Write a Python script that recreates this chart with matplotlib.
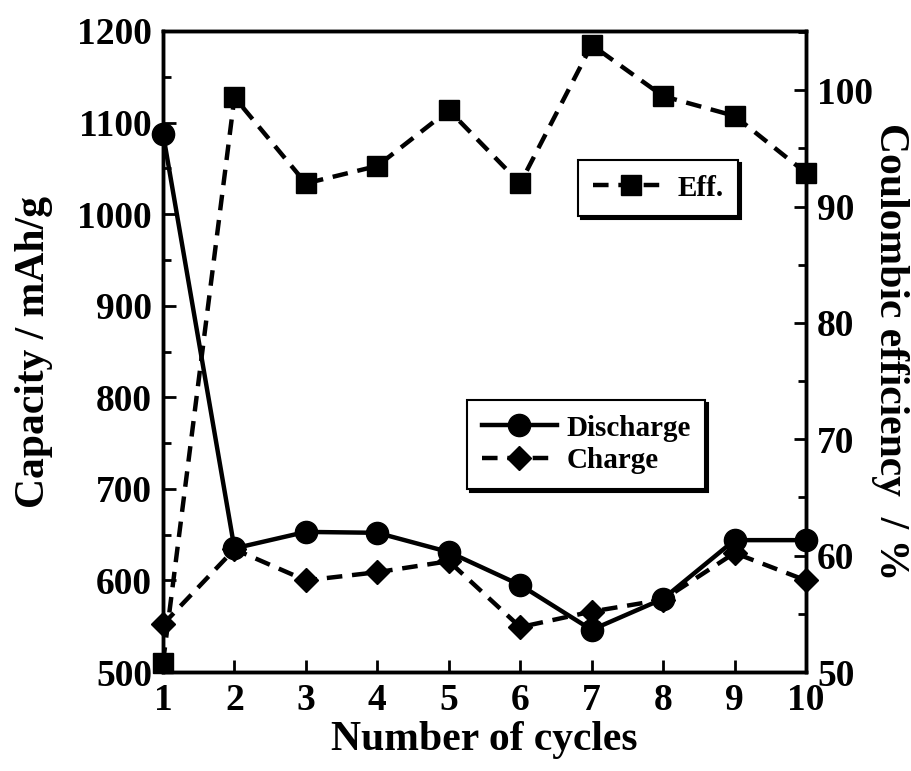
import matplotlib
matplotlib.use("Agg")
import matplotlib.pyplot as plt
from matplotlib.ticker import MultipleLocator

cycles = [1, 2, 3, 4, 5, 6, 7, 8, 9, 10]
discharge = [1088, 635, 653, 652, 631, 595, 546, 580, 644, 644]
charge = [552, 634, 600, 609, 621, 549, 566, 579, 630, 600]
efficiency = [50.8, 99.4, 92.0, 93.5, 98.3, 92.0, 103.9, 99.5, 97.8, 92.9]

plt.rcParams['font.family'] = ['Liberation Serif', 'DejaVu Serif']
plt.rcParams['font.weight'] = 'bold'

fig = plt.figure(figsize=(9.12, 7.71), dpi=100)
ax = fig.add_axes([163/912, 1-672/771, (806-163)/912, (672-31)/771])
ax2 = ax.twinx()

lw = 3.2
dash = (3.5, 2.2)
l1, = ax.plot(cycles, discharge, '-', color='black', lw=lw, marker='o', ms=16, label='Discharge', clip_on=False, zorder=5)
l2, = ax.plot(cycles, charge, '--', color='black', lw=lw, dashes=dash, marker='D', ms=12, label='Charge', clip_on=False, zorder=5)
l3, = ax2.plot(cycles, efficiency, '--', color='black', lw=lw, dashes=dash, marker='s', ms=15, label='Eff.', clip_on=False, zorder=5)

ax.set_xlim(1, 10)
ax.set_ylim(500, 1200)
ax2.set_ylim(50, 105.1)

ax.xaxis.set_major_locator(MultipleLocator(1))
ax.yaxis.set_major_locator(MultipleLocator(100))
ax.yaxis.set_minor_locator(MultipleLocator(50))
ax2.yaxis.set_major_locator(MultipleLocator(10))
ax2.yaxis.set_minor_locator(MultipleLocator(5))

for a in (ax, ax2):
    for s in a.spines.values():
        s.set_linewidth(2.5)
ax.tick_params(axis='both', which='major', direction='in', length=9, width=2, labelsize=27, pad=8)
ax.tick_params(axis='y', which='minor', direction='in', length=6, width=2)
ax.tick_params(top=False, right=False)
ax2.tick_params(axis='y', which='major', direction='in', length=9, width=2, labelsize=27, pad=8)
ax2.tick_params(axis='y', which='minor', direction='in', length=6, width=2)

for lab in ax.get_xticklabels() + ax.get_yticklabels() + ax2.get_yticklabels():
    lab.set_fontweight('bold')

ax.set_xlabel('Number of cycles', fontsize=30, fontweight='bold', labelpad=2)
ax.set_ylabel('Capacity / mAh/g', fontsize=30, fontweight='bold', va='center')
ax.yaxis.set_label_coords(-0.2, 0.5)
ax2.set_ylabel('Coulombic efficiency  / %', fontsize=30, fontweight='bold', rotation=270, va='center')
ax2.yaxis.set_label_coords(1.13, 0.5)

leg1 = ax.legend(handles=[l1, l2], loc='upper left', bbox_to_anchor=(467/912, 1-400/771),
                 bbox_transform=fig.transFigure, fancybox=False, edgecolor='black',
                 shadow={'color': 'black', 'alpha': 1}, framealpha=1, numpoints=1,
                 handlelength=2.6, handletextpad=0.3, borderpad=0.5, labelspacing=0.2,
                 borderaxespad=0, prop={'size': 21, 'weight': 'bold'})
leg1.get_frame().set_linewidth(1.5)
leg1.set_zorder(10)

leg2 = ax2.legend(handles=[l3], loc='upper left', bbox_to_anchor=(578/912, 1-160/771),
                  bbox_transform=fig.transFigure, fancybox=False, edgecolor='black',
                  shadow={'color': 'black', 'alpha': 1}, framealpha=1, numpoints=1,
                  handlelength=2.6, handletextpad=0.3, borderpad=0.5,
                  borderaxespad=0, prop={'size': 21, 'weight': 'bold'})
leg2.get_frame().set_linewidth(1.5)

fig.savefig('out.png', dpi=100)
